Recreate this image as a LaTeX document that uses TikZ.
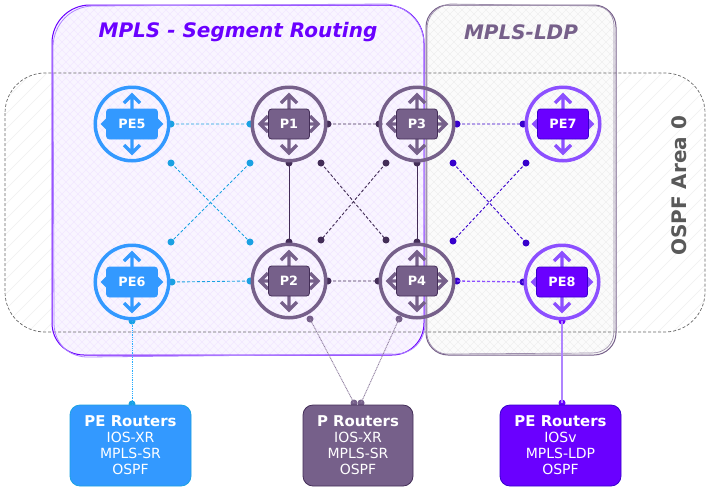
\documentclass[tikz,border=0pt]{standalone}
\usepackage{fontspec}
\setmainfont{DejaVu Sans}
\setsansfont{DejaVu Sans}
\usetikzlibrary{arrows.meta}
\definecolor{cblue}{HTML}{3399FF}
\definecolor{cdot}{HTML}{1BA1E2}
\definecolor{cpurple}{HTML}{76608A}
\definecolor{cdark}{HTML}{432D57}
\definecolor{cviolet}{HTML}{6A00FF}
\definecolor{clight}{HTML}{8C4FFF}
\definecolor{cindigo}{HTML}{3700CC}
\tikzset{
  x=1pt,y=-1pt,
  ring/.style={circle,line width=3.5pt,minimum size=73.5pt,inner sep=0pt,fill=none},
  rbox/.style={draw,rounded corners=3pt,line width=0.8pt,minimum height=30pt,text=white,font=\bfseries\fontsize{12.8}{14}\selectfont,inner sep=0pt},
  dot/.style={circle,inner sep=0pt,minimum size=7pt,draw=none},
  legend/.style={draw,rounded corners=10pt,line width=0.8pt,minimum height=81pt,text=white,align=center,inner sep=0pt,font=\sffamily\fontsize{14}{16}\selectfont},
  fourway/.pic={
    \draw[line width=3.4pt] (0,-29)--(0,29) (-29,0)--(29,0)
      (-8,-21)--(0,-29)--(8,-21) (-8,21)--(0,29)--(8,21)
      (-21,-8)--(-29,0)--(-21,8) (21,-8)--(29,0)--(21,8);
  },
  link/.style={line width=0.9pt,dash pattern=on 3pt off 2pt},
}
\newcommand{\SRpath}{(90,5) -- (386,5) .. controls (407,5) and (424,22) .. (424,43) -- (424,323) .. controls (424,341) and (410,355) .. (392,355) -- (84,355) .. controls (66,355) and (52,341) .. (52,323) -- (52,43) .. controls (52,22) and (69,5) .. (90,5) -- cycle}
\newcommand{\SRsketch}{(92,6) -- (386,4) .. controls (408,6) and (425,24) .. (424,46) -- (425,325) .. controls (424,343) and (410,356) .. (390,354) -- (86,357) .. controls (67,356) and (53,342) .. (54,320) -- (53,46) .. controls (54,24) and (70,7) .. (92,6) -- cycle}
\newcommand{\LDPpath}{(448,5) -- (594,5) .. controls (606,5) and (616,15) .. (616,27) -- (616,333) .. controls (616,345) and (606,355) .. (594,355) -- (448,355) .. controls (436,355) and (426,345) .. (426,333) -- (426,27) .. controls (426,15) and (436,5) .. (448,5) -- cycle}
\newcommand{\LDPsketch}{(450,4) -- (596,6) .. controls (608,7) and (615,16) .. (614,30) -- (614,331) .. controls (614,345) and (604,353) .. (592,353) -- (446,354) .. controls (435,353) and (428,344) .. (427,335) -- (427,29) .. controls (427,15) and (437,6) .. (450,4) -- cycle}
\newcommand{\router}[6]{%
  \pic[color=#5] at (#2,#3) {fourway};
  \node[ring,draw=#5] (#1c) at (#2,#3) {};
  \node[rbox,#6] (#1) at (#2,#3) {#4};
}
\newcommand{\mydot}[4]{\node[dot,fill=#1] (#2) at (#3,#4) {};}
\newcommand{\lhead}[1]{{\bfseries\fontsize{14.9}{16}\selectfont #1}}
\begin{document}
\begin{tikzpicture}
\useasboundingbox (0,0) rectangle (711,491);
\fill[white] (0,0) rectangle (711,491);
% OSPF area
\begin{scope}
\clip[rounded corners=40pt] (5,73) rectangle (705,332);
\foreach \k in {0,15,...,1200} \draw[line width=0.5pt,color=black!6] (\k,0)--(\k-500,500);
\end{scope}
% SR region
\fill[color=cviolet!4] \SRpath;
\begin{scope}
\clip \SRpath;
\foreach \k in {0,8,...,1000} {\draw[line width=0.6pt,color=cviolet!9] (\k,0)--(\k-500,500);
  \draw[line width=0.6pt,color=cviolet!9] (\k-500,0)--(\k,500);}
\end{scope}
% LDP region
\fill[color=black!1.5] \LDPpath;
\begin{scope}
\clip \LDPpath;
\foreach \k in {0,8,...,1200} {\draw[line width=0.6pt,color=black!6] (\k,0)--(\k-500,500);
  \draw[line width=0.6pt,color=black!6] (\k-500,0)--(\k,500);}
\end{scope}
\draw[line width=0.7pt,color=black!60,dash pattern=on 3pt off 2pt,rounded corners=40pt] (5,73) rectangle (705,332);
\draw[line width=1pt,color=cviolet] \SRpath;
\draw[line width=0.8pt,color=clight!70] \SRsketch;
\draw[line width=1pt,color=cpurple] \LDPpath;
\draw[line width=0.7pt,color=cpurple!70] \LDPsketch;
% titles
\node[font=\sffamily\bfseries\itshape\fontsize{20}{24}\selectfont,text=cviolet] (t1) at (238,32) {MPLS - Segment Routing};
\node[font=\sffamily\bfseries\itshape\fontsize{20}{24}\selectfont,text=cpurple] (t2) at (521,32) {MPLS-LDP};
\node[font=\sffamily\bfseries\fontsize{20}{24}\selectfont,text=black!65,rotate=90] (t3) at (679,186) {OSPF Area 0};
% dots
\mydot{cdot}{a1}{171}{124}\mydot{cdot}{a2}{250}{124}
\mydot{cdot}{a3}{171}{163}\mydot{cdot}{a4}{250}{242}
\mydot{cdot}{a5}{250}{163}\mydot{cdot}{a6}{171}{242}
\mydot{cdot}{a7}{172}{282}\mydot{cdot}{a8}{250}{281}
\mydot{cdark}{b1}{328}{124}\mydot{cdark}{b2}{379}{124}
\mydot{cdark}{b3}{321}{163}\mydot{cdark}{b4}{386}{240}
\mydot{cdark}{b5}{386}{163}\mydot{cdark}{b6}{321}{240}
\mydot{cdark}{b7}{328}{281}\mydot{cdark}{b8}{378}{281}
\mydot{cdark}{v1}{289}{163}\mydot{cdark}{v2}{289}{242}
\mydot{cdark}{v3}{417}{163}\mydot{cdark}{v4}{417}{242}
\mydot{cindigo}{c1}{457}{124}\mydot{cindigo}{c2}{523}{124}
\mydot{cindigo}{c3}{453}{163}\mydot{cindigo}{c4}{526}{243}
\mydot{cindigo}{c5}{526}{163}\mydot{cindigo}{c6}{453}{241}
\mydot{cindigo}{c7}{457}{281}\mydot{cindigo}{c8}{523}{282}
\mydot{cdot}{e1}{132}{321}\mydot{cdot}{e2}{132}{404}
\mydot{cpurple}{f1}{310}{319}\mydot{cpurple}{f2}{354}{403}
\mydot{cpurple}{f3}{399}{319}\mydot{cpurple}{f4}{361}{403}
\mydot{cviolet}{g1}{562}{321}\mydot{cviolet}{g2}{562}{403}
% links
\draw[link,color=cdot] (a1.center)--(a2.center) (a3.center)--(a4.center) (a5.center)--(a6.center) (a7.center)--(a8.center);
\draw[link,color=cdark] (b1.center)--(b2.center) (b3.center)--(b4.center) (b5.center)--(b6.center) (b7.center)--(b8.center);
\draw[line width=0.9pt,color=cdark] (v1.center)--(v2.center) (v3.center)--(v4.center);
\draw[link,color=cindigo] (c1.center)--(c2.center) (c3.center)--(c4.center) (c5.center)--(c6.center);
\draw[link,line width=1.3pt,color=clight] (c7.center)--(c8.center);
\draw[line width=0.9pt,color=cblue!80!cyan,dash pattern=on 1pt off 0.8pt] (e1.center)--(e2.center);
\draw[line width=0.9pt,color=cpurple!80,dash pattern=on 1pt off 0.7pt] (f1.center)--(f2.center) (f3.center)--(f4.center);
\draw[line width=1.8pt,color=clight!70] (g1.center)--(g2.center);
% routers
\router{PE5}{132}{124}{PE5}{cblue}{fill=cblue,draw=cblue,minimum width=51pt}
\router{PE6}{132}{282}{PE6}{cblue}{fill=cblue,draw=cblue,minimum width=51pt}
\router{P1}{289}{124}{P1}{cpurple}{fill=cpurple,draw=cdark,minimum width=41pt}
\router{P2}{289}{281}{P2}{cpurple}{fill=cpurple,draw=cdark,minimum width=41pt}
\router{P3}{417}{124}{P3}{cpurple}{fill=cpurple,draw=cdark,minimum width=41pt}
\router{P4}{417}{281}{P4}{cpurple}{fill=cpurple,draw=cdark,minimum width=41pt}
\router{PE7}{563}{124}{PE7}{clight}{fill=cviolet,draw=cindigo,minimum width=51pt}
\router{PE8}{562}{282}{PE8}{clight}{fill=cviolet,draw=cindigo,minimum width=51pt}
% legends
\node[legend,fill=cblue,draw=cdot,minimum width=121pt] (L1) at (130.5,445.5) {\lhead{PE Routers}\\IOS-XR\\MPLS-SR\\OSPF};
\node[legend,fill=cpurple,draw=cdark,minimum width=110pt] (L2) at (358,445.5) {\lhead{P Routers}\\IOS-XR\\MPLS-SR\\OSPF};
\node[legend,fill=cviolet,draw=cindigo,minimum width=121pt] (L3) at (560.5,445.5) {\lhead{PE Routers}\\IOSv\\MPLS-LDP\\OSPF};
\end{tikzpicture}
\end{document}
